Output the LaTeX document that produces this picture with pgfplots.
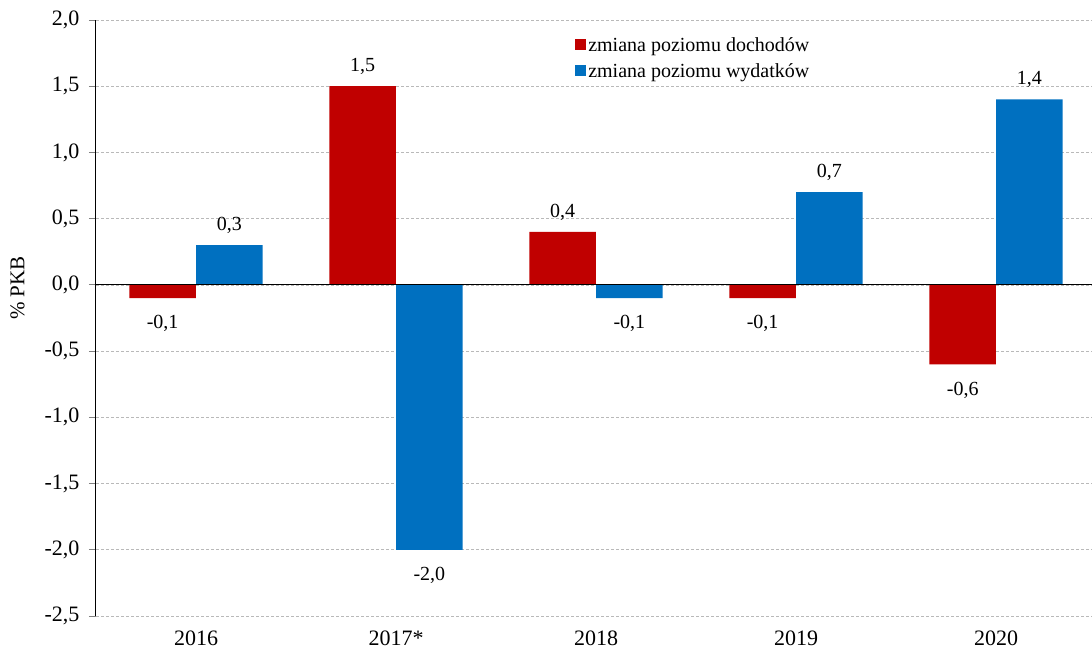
\documentclass[border=0pt]{standalone}
\usepackage{pgfplots}
\pgfplotsset{compat=1.18}
\usepackage{fontspec}
\setmainfont{Liberation Serif}
\definecolor{cRed}{HTML}{C00000}
\definecolor{cBlue}{HTML}{0070C0}
\begin{document}
\begin{tikzpicture}
\begin{axis}[
  name=ax,
  scale only axis,
  width=996pt, height=596pt,
  xmin=-0.5, xmax=4.48,
  ymin=-2.5, ymax=2.0,
  ytick={-2.5,-2,...,2},
  xtick={0,1,2,3,4},
  xticklabels={2016,2017*,2018,2019,2020},
  axis lines*=left,
  x axis line style={draw=none},
  y axis line style={black, line width=1pt},
  xtick style={draw=none},
  ytick style={gray, line width=0.8pt},
  tick align=outside,
  major tick length=7pt,
  ymajorgrids,
  grid style={gray!55, dash pattern=on 3pt off 2pt, line width=0.6pt},
  /pgf/number format/.cd, fixed, fixed zerofill, precision=1, use comma, assume math mode=true,
  /pgfplots/.cd,
  yticklabel style={font=\fontsize{22}{26}\selectfont, xshift=-6pt},
  xticklabel style={font=\fontsize{22}{26}\selectfont, yshift=-4pt},
  ylabel={\% PKB},
  ylabel style={font=\fontsize{21}{25}\selectfont, at={(axis description cs:-0.0788,0.55)}, anchor=center},
  ybar,
  bar width=0.333,
  nodes near coords,
  nodes near coords align={vertical},
  visualization depends on={y \as \rawy},
  every node near coord/.append style={font=\fontsize{20}{24}\selectfont, yshift={-14*(\rawy<0)+8*(\rawy>0)}},
  legend style={at={(0.478,0.978)}, anchor=north west, draw=none, fill=none,
    font=\fontsize{20}{26}\selectfont, row sep=7pt},
  legend cell align=left,
  legend image code/.code={\fill[#1] (0pt,-5pt) rectangle (11pt,6pt);},
]
\addplot[fill=cRed, draw=none, bar shift=-0.1667] coordinates {(0,-0.1) (1,1.5) (2,0.4) (3,-0.1) (4,-0.6)};
\addplot[fill=cBlue, draw=none, bar shift=0.1667] coordinates {(0,0.3) (1,-2.0) (2,-0.1) (3,0.7) (4,1.4)};
\legend{zmiana poziomu dochodów, zmiana poziomu wydatków}
\draw[black, line width=1pt] (axis cs:-0.5,0) -- (axis cs:4.48,0);
\pgfplotsinvokeforeach{0.5,1.5,2.5,3.5}{\draw[gray, line width=1pt] (axis cs:#1,0) +(0,-6pt) -- +(0,6pt);}
\end{axis}
\pgfresetboundingbox
\path[use as bounding box] ([xshift=-96pt,yshift=-38pt]ax.south west) rectangle ([yshift=20pt]ax.north east);
\end{tikzpicture}
\end{document}
